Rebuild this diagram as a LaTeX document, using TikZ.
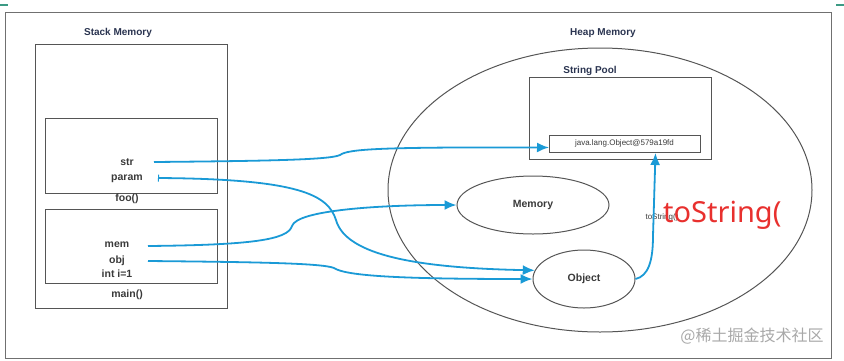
\documentclass[tikz,border=0pt]{standalone}
\usepackage{fontspec}
\setmainfont{Liberation Sans}
\newfontfamily\cjkfont{Noto Sans CJK SC}
\newfontfamily\notosans{Noto Sans}
\usetikzlibrary{arrows.meta,shapes.geometric}
\definecolor{arrowblue}{HTML}{1A9AD6}
\definecolor{framegray}{HTML}{707070}
\definecolor{linegray}{HTML}{555555}
\definecolor{labelc}{HTML}{3A3A3A}
\definecolor{headc}{HTML}{2A3450}
\definecolor{redtext}{HTML}{E8302E}
\definecolor{wmgray}{HTML}{A8A8A8}
\definecolor{tealmark}{HTML}{3C9A84}
\tikzset{
  boxrect/.style={draw=linegray, line width=1pt, inner sep=0pt, anchor=north west},
  ovalnode/.style={draw=linegray, line width=1pt, ellipse, inner sep=0pt},
  heading/.style={text=headc, font=\fontsize{10}{12}\selectfont\bfseries, inner sep=1pt},
  varlabel/.style={text=labelc, font=\fontsize{10.5}{12}\selectfont\bfseries, inner sep=1pt},
  smalltext/.style={text=labelc, font=\fontsize{8}{10}\selectfont, inner sep=1pt},
  bluetip/.style={},
  ref/.style={draw=arrowblue, line width=1.8pt, -{Latex[length=12pt,width=10pt]}},
}
\begin{document}
\begin{tikzpicture}[x=1pt,y=-1pt]
\useasboundingbox (0,0) rectangle (844,360);
% teal marks at the top corners
\draw[tealmark, line width=1.5pt] (0,5) -- (8,5);
\draw[tealmark, line width=1.5pt] (836,5) -- (844,5);
% outer frame
\node[draw=framegray, line width=1.3pt, inner sep=0pt, anchor=north west,
      minimum width=826pt, minimum height=346pt] (frame) at (5,12) {};

% stack side
\node[heading] (stacklbl) at (118,33) {Stack Memory};
\node[boxrect, minimum width=192pt, minimum height=264pt] (stack) at (35,44) {};
\node[boxrect, minimum width=172pt, minimum height=75pt] (foo) at (45,118) {};
\node[boxrect, minimum width=172pt, minimum height=74pt] (mainbox) at (45,209) {};
\node[varlabel] (foolbl) at (127,199) {foo()};
\node[varlabel] (mainlbl) at (127,295) {main()};
\node[varlabel] (str) at (127,162) {str};
\node[varlabel] (param) at (127,179) {param};
\node[varlabel] (mem) at (117,245) {mem};
\node[varlabel] (obj) at (117,261) {obj};
\node[varlabel] (inti) at (117,274) {int i=1};
\coordinate (strstart) at (154,162);
\coordinate (paramstart) at (158,178);
\coordinate (memstart) at (148,246);
\coordinate (objstart) at (148,261);

% heap side
\node[heading] (heaplbl) at (603,33) {Heap Memory};
\node[ovalnode, minimum width=424pt, minimum height=284pt] (heap) at (600,190) {};
\node[heading] (poollbl) at (590,71) {String Pool};
\node[boxrect, minimum width=182pt, minimum height=82pt] (pool) at (529,77) {};
\node[boxrect, minimum width=151pt, minimum height=17pt] (jlo) at (549,135) {};
\node[smalltext] (jlotext) at (624.5,143.5) {java.lang.Object@579a19fd};
\node[ovalnode, minimum width=152pt, minimum height=58pt, varlabel] (memory) at (533,205) {Memory};
\node[ovalnode, minimum width=102pt, minimum height=58pt, varlabel] (object) at (584,279) {Object};
\node[smalltext] (tostr) at (662,217) {toString()};
\node[text=redtext, font=\notosans\fontsize{29}{32}\selectfont, inner sep=0pt, anchor=west] (bigtostr) at (663,215) {toString(};

% connectors
\draw[ref] (strstart) .. controls (260,161) and (330,160) .. (340,155)
   .. controls (348,149) and (380,147) .. ([yshift=-3.5pt]jlo.west);
\draw[ref, {Bar[width=7pt,line width=1pt]}-{Latex[length=12pt,width=10pt]}] (paramstart) .. controls (300,179) and (328,195) .. (336,220)
   .. controls (346,256) and (420,268) .. (object.170);
\draw[ref] (memstart) .. controls (250,245) and (288,240) .. (292,226)
   .. controls (297,210) and (380,205) .. (memory.west);
\draw[ref] (objstart) .. controls (250,262) and (322,263) .. (334,268)
   .. controls (346,276) and (400,279) .. (object.west);
\draw[ref] (object.east) .. controls (648,276) and (653,262) .. (653,236)
   -- ([xshift=30.5pt]jlo.south);

% watermark
\node[text=wmgray, font=\cjkfont\fontsize{16}{18}\selectfont, inner sep=0pt] (wm) at (752,336) {@稀土掘金技术社区};
\end{tikzpicture}
\end{document}
